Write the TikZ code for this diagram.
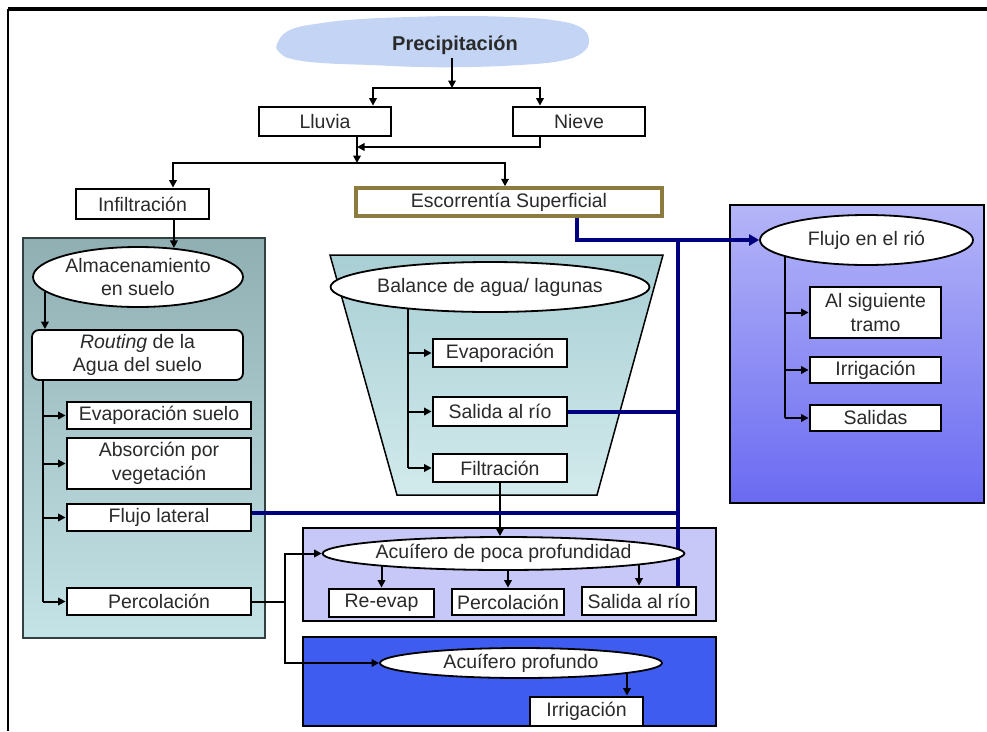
\documentclass[tikz,border=0pt]{standalone}
\usepackage{fontspec}
\setmainfont{Liberation Sans}
\usetikzlibrary{arrows.meta,shapes.geometric,calc}
\pgfdeclarelayer{bg}
\pgfdeclarelayer{wires}
\pgfsetlayers{bg,wires,main}

\definecolor{ink}{HTML}{2A2A2A}
\definecolor{cloudblue}{HTML}{C3D4F4}
\definecolor{soilTop}{HTML}{8FAFB3}
\definecolor{soilBot}{HTML}{C4E3E6}
\definecolor{soilEdge}{HTML}{34403F}
\definecolor{lagTop}{HTML}{A8CFD4}
\definecolor{lagBot}{HTML}{D2EAEC}
\definecolor{rivTop}{HTML}{B5B5F8}
\definecolor{rivBot}{HTML}{6A6AF2}
\definecolor{shalFill}{HTML}{C8C8F8}
\definecolor{deepFill}{HTML}{3E5DF0}
\definecolor{escBorder}{HTML}{8C7B3E}
\definecolor{navy}{HTML}{00007F}

\begin{document}
\begin{tikzpicture}[x=1pt,y=-1pt,
  every node/.style={text=ink, font=\fontsize{19.5}{23.5}\selectfont},
  box/.style={draw=black, line width=2.8pt, fill=white, inner sep=0pt, align=center},
  ell/.style={ellipse, draw=black, line width=1.8pt, fill=white, inner sep=0pt, align=center},
  wire/.style={draw=black, line width=2pt},
  arr/.style={wire, -{Triangle[length=7.5pt,width=7.5pt]}},
  blueline/.style={draw=navy, line width=4pt},
  bluearr/.style={blueline, -{Triangle[length=10pt,width=11pt]}}]
\useasboundingbox (0,0) rectangle (987,731);

% ---------- nodes ----------
\node[font=\bfseries\fontsize{20}{24}\selectfont] (precip) at (455,45) {Precipitación};
\node[box, minimum width=132pt, minimum height=29pt] (lluvia) at (325,121.5) {Lluvia};
\node[box, minimum width=132pt, minimum height=29pt] (nieve) at (579,121.5) {Nieve};
\node[box, minimum width=133pt, minimum height=30pt] (infil) at (142.5,204) {Infiltración};
\node[box, draw=escBorder, line width=3.5pt, minimum width=306pt, minimum height=28pt] (escor) at (509,202) {Escorrentía Superficial};

% soil column
\node[ell, minimum width=210pt, minimum height=60pt] (almacen) at (138,277) {Almacenamiento\\en suelo};
\node[box, rounded corners=7pt, line width=1.8pt, minimum width=211pt, minimum height=50pt] (routing) at (137.5,355) {\textit{Routing} de la\\Agua del suelo};
\node[box, minimum width=184pt, minimum height=27pt] (evs) at (159,415.5) {Evaporación suelo};
\node[box, minimum width=184pt, minimum height=51pt] (absv) at (159,463.5) {Absorción por\\vegetación};
\node[box, minimum width=184pt, minimum height=27pt] (flat) at (159,517.5) {Flujo lateral};
\node[box, minimum width=184pt, minimum height=27pt] (percl) at (159,601.5) {Percolación};

% ponds and lagoons
\node[ell, minimum width=254pt, minimum height=50pt] (balance) at (490,287) {Balance de agua/ lagunas};
\node[box, minimum width=134pt, minimum height=28pt] (evap) at (500,353) {Evaporación};
\node[box, minimum width=134pt, minimum height=29pt] (salL) at (500,411.5) {Salida al río};
\node[box, minimum width=134pt, minimum height=28pt] (filtr) at (500,468) {Filtración};

% river reach
\node[ell, minimum width=213pt, minimum height=50pt] (flujo) at (866.5,240) {Flujo en el rió};
\node[box, minimum width=131pt, minimum height=51pt] (tramo) at (875.5,312.5) {Al siguiente\\tramo};
\node[box, minimum width=131pt, minimum height=26pt] (irrR) at (875.5,370) {Irrigación};
\node[box, minimum width=131pt, minimum height=26pt] (salidas) at (875.5,418) {Salidas};

% shallow aquifer
\node[ell, minimum width=283pt, minimum height=33pt] (shallow) at (503.5,553.5) {Acuífero de poca profundidad};
\node[box, minimum width=105pt, minimum height=28pt] (reevap) at (381.5,603) {Re-evap};
\node[box, minimum width=112pt, minimum height=26pt] (percS) at (508,602) {Percolación};
\node[box, minimum width=114pt, minimum height=28pt] (salS) at (639,601) {Salida al río};

% deep aquifer
\node[ell, minimum width=282pt, minimum height=30pt] (deep) at (521,663) {Acuífero profundo};
\node[box, minimum width=113pt, minimum height=29pt] (irrD) at (586.5,711.5) {Irrigación};

% ---------- backgrounds ----------
\begin{pgfonlayer}{bg}
  \fill[cloudblue] plot[smooth cycle, tension=0.7] coordinates {
    (277,44) (290,30) (322,23) (362,19) (410,17) (460,16) (510,17) (552,20)
    (580,27) (589,40) (582,53) (560,61) (520,65) (470,67) (420,67)
    (370,65) (322,63) (292,59) (280,53)};
  \draw[line width=4pt] (8,9) -- (987,9);
  \draw[line width=2pt] (8,9) -- (8,731);
  \shadedraw[top color=soilTop, bottom color=soilBot, draw=soilEdge, line width=1.5pt]
    (23,238) rectangle (265,638);
  \shadedraw[top color=lagTop, bottom color=lagBot, draw=black, line width=1.5pt]
    (330,255) -- (663,255) -- (597,495) -- (397,495) -- cycle;
  \shadedraw[top color=rivTop, bottom color=rivBot, draw=black, line width=2pt]
    (730,205) rectangle (984,503);
  \filldraw[fill=shalFill, draw=black, line width=2pt] (303,528) rectangle (716,621);
  \filldraw[fill=deepFill, draw=black, line width=2pt] (303,637) rectangle (716,726);
\end{pgfonlayer}

% ---------- connectors ----------
\begin{pgfonlayer}{wires}
  \coordinate (j1) at (452,88);
  \coordinate (j2) at (357,163);
  \coordinate (j3) at (357,147);
  \coordinate (sp) at (43,380);
  \coordinate (bs) at (408,287);
  \coordinate (fs) at (785,240);
  \coordinate (pj) at (285,601.5);
  \coordinate (bj) at (678,240);
  \coordinate (dv) at ([xshift=40.5pt]irrD.north);

  % precipitation splits into rain and snow
  \draw[arr] (precip.south -| j1) -- (j1);
  \draw[arr] (j1) -| ([xshift=48pt]lluvia.north);
  \draw[arr] (j1) -| ([xshift=-39pt]nieve.north);

  % rain and snow merge, then split into infiltration and runoff
  \draw[arr] ([xshift=32pt]lluvia.center) -- (j2);
  \draw[arr] ([xshift=-39pt]nieve.center) |- (j3);
  \draw[arr] (j2) -| ([xshift=30.5pt]infil.north);
  \draw[arr] (j2) -| ([xshift=-4pt]escor.north);

  % soil column
  \draw[arr] (almacen.39 |- infil.south) -- (almacen.39);
  \draw[arr] (almacen.189) -- (almacen.189 |- routing.north);
  \draw[wire] (sp) -- (sp |- percl.west);
  \foreach \b in {evs,absv,flat,percl} \draw[arr] (sp |- \b.west) -- (\b.west);

  % lagoon balance
  \draw[wire] (bs) -- (bs |- filtr.west);
  \foreach \b in {evap,salL,filtr} \draw[arr] (bs |- \b.west) -- (\b.west);
  \draw[arr] (filtr.south) -- (filtr.south |- shallow.north);

  % river reach
  \draw[wire] (fs) -- (fs |- salidas.west);
  \foreach \b in {tramo,irrR,salidas} \draw[arr] (fs |- \b.west) -- (\b.west);

  % shallow aquifer outputs
  \foreach \b in {reevap,percS,salS} \draw[arr] (shallow.center -| \b.north) -- (\b.north);

  % deep aquifer to irrigation
  \draw[arr] (deep.center -| dv) -- (dv);

  % percolation feeds both aquifers
  \draw[wire] (percl.east) -- (pj);
  \draw[arr] (pj) |- (shallow.west);
  \draw[arr] (pj) |- (deep.west);

  % flows to the river
  \draw[bluearr] ([xshift=68pt]escor.south) |- (flujo.west);
  \draw[blueline] ([xshift=39pt]salS.north) -- (bj);
  \draw[blueline] (salL.east) -- (salL.east -| bj);
  \draw[blueline] ([yshift=4.5pt]flat.east) -- ([yshift=4.5pt]flat.east -| bj);
\end{pgfonlayer}
\end{tikzpicture}
\end{document}
